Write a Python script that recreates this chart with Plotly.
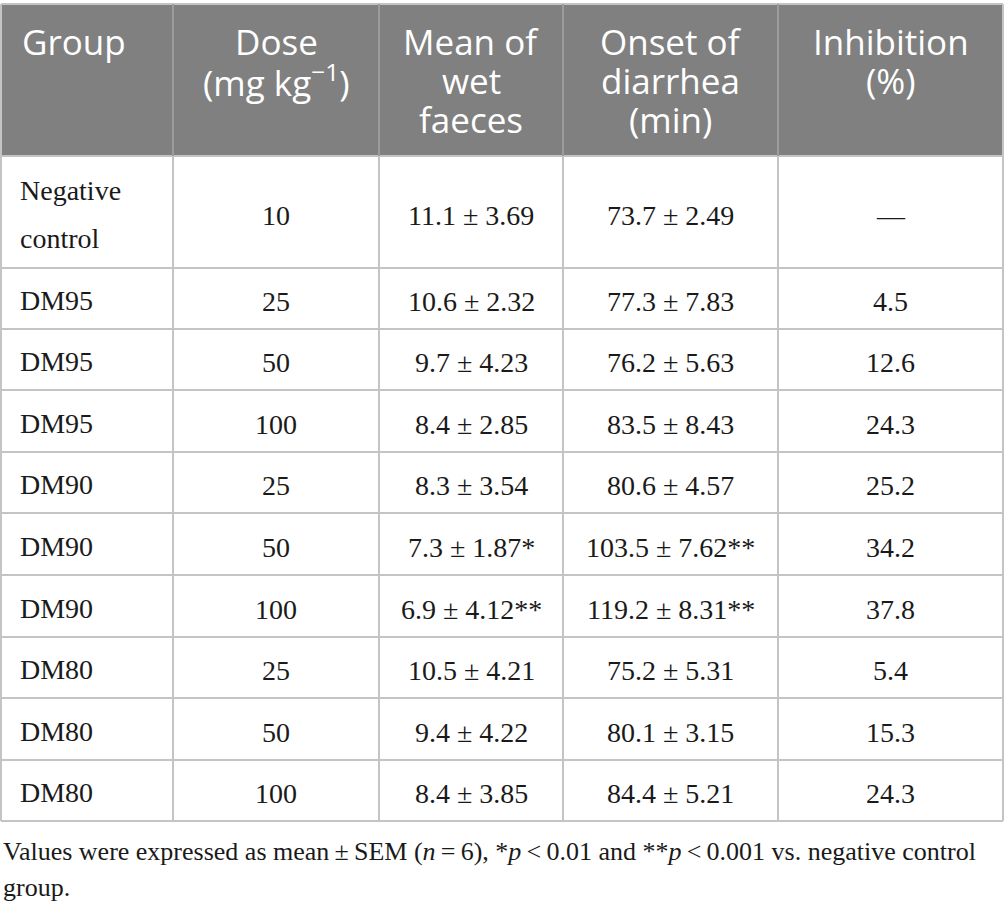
import plotly.graph_objects as go

# ---- data ----
headers = ["Group", "Dose<br>(mg kg<sup>−1</sup>)", "Mean of<br>wet<br>faeces",
           "Onset of<br>diarrhea<br>(min)", "Inhibition<br>(%)"]
groups = ["Negative<br>control", "DM95", "DM95", "DM95", "DM90", "DM90", "DM90",
          "DM80", "DM80", "DM80"]
doses = [10, 25, 50, 100, 25, 50, 100, 25, 50, 100]
wet_mean = [11.1, 10.6, 9.7, 8.4, 8.3, 7.3, 6.9, 10.5, 9.4, 8.4]
wet_sem = [3.69, 2.32, 4.23, 2.85, 3.54, 1.87, 4.12, 4.21, 4.22, 3.85]
wet_sig = ["", "", "", "", "", "*", "**", "", "", ""]
onset_mean = [73.7, 77.3, 76.2, 83.5, 80.6, 103.5, 119.2, 75.2, 80.1, 84.4]
onset_sem = [2.49, 7.83, 5.63, 8.43, 4.57, 7.62, 8.31, 5.31, 3.15, 5.21]
onset_sig = ["", "", "", "", "", "**", "**", "", "", ""]
inhibition = [None, 4.5, 12.6, 24.3, 25.2, 34.2, 37.8, 5.4, 15.3, 24.3]
footnote = ["Values were expressed as mean\u2009±\u2009SEM (<i>n</i>\u2009=\u20096), *<i>p</i>\u2009<\u20090.01 and **<i>p</i>\u2009<\u20090.001 vs. negative control",
            "group."]

# ---- layout geometry (reference pixel coordinates) ----
W, H = 1005, 911
col_edges = [1, 173, 379, 563, 778, 1003]
table_top = 4
row_edges = [156, 268, 329, 390, 452, 513, 575, 637, 698, 760, 821]
header_line_y = [41, 80, 119]
grid_color = "#c4c4c4"
header_fill = "#7f807f"
head_font = dict(family="Open Sans", size=35, color="white")
body_font = dict(family="Liberation Serif", size=28, color="#1a1a1a")
foot_font = dict(family="Liberation Serif", size=26, color="#1a1a1a")

shapes = []
annotations = []

# header background
shapes.append(dict(type="rect", xref="x", yref="y", x0=col_edges[0], x1=col_edges[-1],
                   y0=table_top, y1=row_edges[0], fillcolor=header_fill,
                   line=dict(width=0), layer="below"))
# horizontal lines
for y in [table_top] + row_edges:
    shapes.append(dict(type="line", xref="x", yref="y", x0=col_edges[0], x1=col_edges[-1],
                       y0=y, y1=y, line=dict(color=grid_color, width=2)))
# vertical lines
for i, x in enumerate(col_edges):
    outer = i in (0, len(col_edges) - 1)
    shapes.append(dict(type="line", xref="x", yref="y", x0=x, x1=x,
                       y0=table_top, y1=row_edges[0],
                       line=dict(color=grid_color if outer else "#9c9c9c", width=2)))
    shapes.append(dict(type="line", xref="x", yref="y", x0=x, x1=x,
                       y0=row_edges[0], y1=row_edges[-1],
                       line=dict(color=grid_color, width=2)))

centers = [(col_edges[i] + col_edges[i + 1]) / 2 for i in range(len(col_edges) - 1)]

# header text
for ci, h in enumerate(headers):
    for li, line in enumerate(h.split("<br>")):
        if ci == 0:
            annotations.append(dict(x=col_edges[0] + 19, y=header_line_y[li], text=line,
                                    xanchor="left", yanchor="middle", showarrow=False, font=head_font))
        else:
            annotations.append(dict(x=centers[ci], y=header_line_y[li], text=line,
                                    xanchor="center", yanchor="middle", showarrow=False, font=head_font))

# body text
for r in range(len(groups)):
    yc = (row_edges[r] + row_edges[r + 1]) / 2
    glines = groups[r].split("<br>")
    n = len(glines)
    for li, gl in enumerate(glines):
        yy = yc + 2 + (li - (n - 1) / 2) * 48
        annotations.append(dict(x=col_edges[0] + 17, y=yy, text=gl, xanchor="left", yanchor="middle",
                                showarrow=False, font=body_font))
    vals = [str(doses[r]),
            f"{wet_mean[r]} ± {wet_sem[r]:.2f}{wet_sig[r]}",
            f"{onset_mean[r]} ± {onset_sem[r]:.2f}{onset_sig[r]}",
            "—" if inhibition[r] is None else f"{inhibition[r]}"]
    for ci, v in enumerate(vals, start=1):
        annotations.append(dict(x=centers[ci], y=yc + 3, text=v, xanchor="center", yanchor="middle",
                                showarrow=False, font=body_font))

# footnote
for li, t in enumerate(footnote):
    annotations.append(dict(x=0.5, y=851 + li * 36, text=t, xanchor="left", yanchor="middle",
                            showarrow=False, font=foot_font))

fig = go.Figure()
fig.add_trace(go.Scatter(x=[0, W], y=[0, H], mode="markers", marker=dict(opacity=0),
                         hoverinfo="skip", showlegend=False))
fig.update_layout(
    width=W, height=H, margin=dict(l=0, r=0, t=0, b=0),
    paper_bgcolor="white", plot_bgcolor="white",
    xaxis=dict(range=[0, W], visible=False, fixedrange=True),
    yaxis=dict(range=[H, 0], visible=False, fixedrange=True),
    shapes=shapes, annotations=annotations, showlegend=False,
)
fig.write_html("out.html", config={"displayModeBar": False},
               post_script="document.body.style.margin='0px';document.body.style.overflow='hidden';")
